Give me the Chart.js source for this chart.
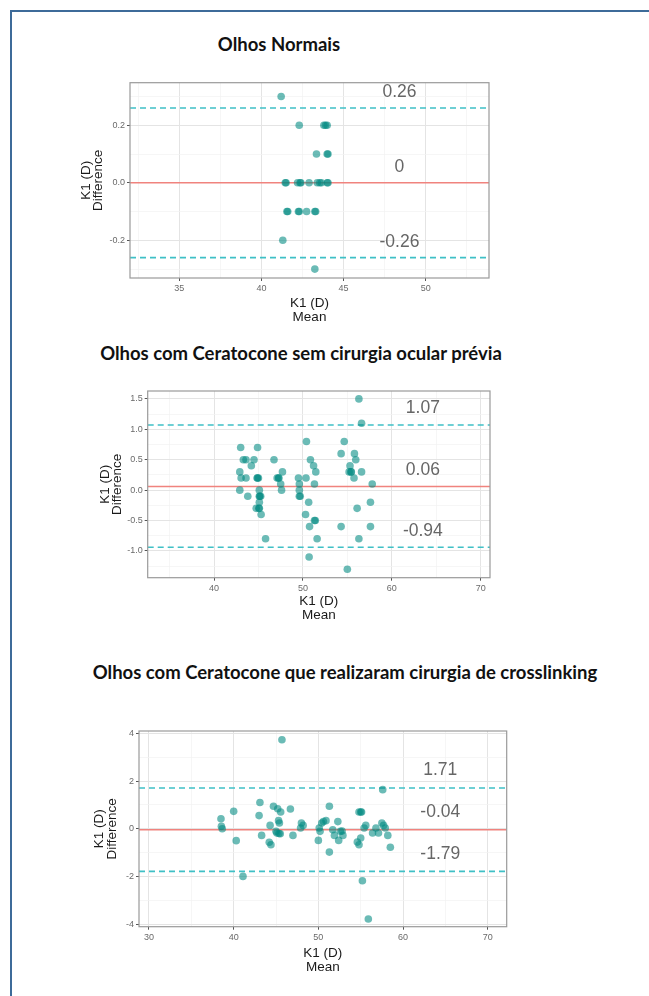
<!DOCTYPE html>
<html>
<head>
<meta charset="utf-8">
<script src="https://cdn.jsdelivr.net/npm/chart.js@4.4.0/dist/chart.umd.min.js"></script>
<style>
  html, body { margin: 0; padding: 0; background: #fff; }
  body { width: 649px; height: 996px; position: relative; overflow: hidden; }
  .frame { position: absolute; left: 10px; top: 10px; width: 700px; height: 1100px;
           border-top: 2px solid #3d6b99; border-left: 2px solid #3d6b99; }
  .title { position: absolute; transform: translate(-50%, -50%); white-space: nowrap;
           font-family: Lato, "Open Sans", sans-serif; font-weight: 700; font-size: 18.5px; color: #111; }
  canvas { position: absolute; }
</style>
</head>
<body>
<div class="frame"></div>

<div class="title" style="left:279px; top:44px;">Olhos Normais</div>
<canvas id="plotNormal"></canvas>

<div class="title" style="left:301px; top:353px;">Olhos com Ceratocone sem cirurgia ocular prévia</div>
<canvas id="plotKc"></canvas>

<div class="title" style="left:345px; top:672px;">Olhos com Ceratocone que realizaram cirurgia de crosslinking</div>
<canvas id="plotCxl"></canvas>

<script>
// ---- Olhos Normais ----
const normalMean = [41.2, 42.3, 43.8, 44.0, 43.9, 43.35, 44.0, 44.05,
                    41.45, 41.5, 42.2, 42.35, 42.4, 42.9, 43.4, 43.55, 43.65, 44.0, 44.05,
                    41.55, 41.6, 42.25, 42.3, 42.75, 43.3, 43.25, 41.3, 43.25];
const normalDiff = [0.3, 0.2, 0.2, 0.2, 0.2, 0.1, 0.1, 0.1,
                    0, 0, 0, 0, 0, 0, 0, 0, 0, 0, 0,
                    -0.1, -0.1, -0.1, -0.1, -0.1, -0.1, -0.1, -0.2, -0.3];
const normalLoa      = [0.26, 0, -0.26];
const normalLoaText  = ['0.26', '0', '-0.26'];
const normalXTicks   = [35, 40, 45, 50];
const normalXLabels  = ['35', '40', '45', '50'];
const normalXMinor   = [32.5, 37.5, 42.5, 47.5, 52.5];
const normalYTicks   = [-0.2, 0, 0.2];
const normalYLabels  = ['-0.2', '0.0', '0.2'];
const normalYMinor   = [-0.3, -0.1, 0.1, 0.3];

// ---- Ceratocone sem cirurgia ----
const kcMean = [43.0, 44.9, 43.3, 43.6, 44.5, 44.2, 42.9, 43.05, 43.6, 44.9, 45.0, 44.85,
                42.9, 43.8, 45.1, 45.15, 45.1, 45.25, 44.75, 45.1, 45.05, 45.3, 45.1, 45.8,
                46.75, 47.1, 47.25, 47.3, 47.7, 47.5, 47.6,
                49.5, 50.35, 49.6, 49.6, 49.6, 49.7,
                50.4, 50.85, 51.2, 51.45, 51.3, 50.65, 50.3, 50.75, 51.3, 51.4, 51.6, 50.7,
                54.3, 54.65, 55.3, 55.2, 55.45, 55.4, 55.8, 55.95, 55.75, 56.6, 57.8,
                56.1, 57.6, 57.6, 56.3, 54.3, 55.0, 56.3, 56.6];
const kcDiff = [0.7, 0.7, 0.5, 0.5, 0.5, 0.4, 0.3, 0.2, 0.2, 0.2, 0.2, 0.2,
                0.0, -0.1, 0.0, -0.1, -0.1, -0.1, -0.3, -0.3, -0.3, -0.4, -0.2, -0.8,
                0.5, 0.2, 0.2, 0.2, 0.3, 0.1, 0.0,
                0.2, 0.2, 0.1, 0.0, -0.1, -0.1,
                0.8, 0.5, 0.4, 0.3, 0.1, -0.2, -0.4, -0.6, -0.5, -0.5, -0.8, -1.1,
                0.6, 0.8, 0.4, 0.3, 0.3, 0.3, 0.6, 0.5, 0.2, 0.3, 0.1,
                -0.3, -0.2, -0.6, -0.8, -0.6, -1.3, 1.5, 1.1];
const kcLoa      = [1.07, 0.06, -0.94];
const kcLoaText  = ['1.07', '0.06', '-0.94'];
const kcXTicks   = [40, 50, 60, 70];
const kcXLabels  = ['40', '50', '60', '70'];
const kcXMinor   = [35, 45, 55, 65];
const kcYTicks   = [-1, -0.5, 0, 0.5, 1, 1.5];
const kcYLabels  = ['-1.0', '-0.5', '0.0', '0.5', '1.0', '1.5'];
const kcYMinor   = [-1.25, -0.75, -0.25, 0.25, 0.75, 1.25];

// ---- Ceratocone com crosslinking ----
const cxlMean = [38.5, 38.55, 38.65, 40.0, 40.3, 41.1,
                 43.1, 43.0, 43.3, 44.7, 44.3, 44.2, 44.4,
                 45.2, 45.55, 45.3, 45.4, 45.1, 45.5, 45.0, 45.35, 45.7,
                 46.7, 47.0, 48.0, 48.2, 47.9,
                 50.1, 50.0, 50.2, 50.6, 50.9, 50.4, 51.3, 51.3, 51.7, 51.9, 52.3, 52.6, 52.4, 52.9, 52.8,
                 54.8, 55.1, 55.0, 54.6, 54.8, 55.0, 55.2, 55.9, 55.4, 55.6,
                 56.4, 57.1, 56.8, 57.5, 57.6, 57.9, 58.2, 58.5, 57.7];
const cxlDiff = [0.42, 0.1, 0.0, 0.73, -0.5, -2.0,
                 1.1, 0.55, -0.28, 0.94, 0.14, -0.57, -0.67,
                 0.84, 0.7, 0.34, 0.24, -0.18, -0.21, -0.11, -0.2, 3.73,
                 0.83, -0.28, 0.24, 0.14, 0.03,
                 0.03, -0.49, -0.11, 0.3, 0.34, 0.24, 0.94, -0.98, -0.04, -0.28, 0.3, -0.11, -0.49, -0.28, -0.1,
                 0.7, 0.7, 0.7, -0.56, -0.67, -0.39, -2.18, -3.79, 0.03, 0.14,
                 -0.18, -0.18, 0.03, 0.24, 1.64, 0.03, -0.28, -0.78, 0.14];
const cxlLoa      = [1.71, -0.04, -1.79];
const cxlLoaText  = ['1.71', '-0.04', '-1.79'];
const cxlXTicks   = [30, 40, 50, 60, 70];
const cxlXLabels  = ['30', '40', '50', '60', '70'];
const cxlXMinor   = [35, 45, 55, 65];
const cxlYTicks   = [-4, -2, 0, 2, 4];
const cxlYLabels  = ['-4', '-2', '0', '2', '4'];
const cxlYMinor   = [-3, -1, 1, 3];

// ---- Estilo ----
const FONT      = "'Liberation Sans', Arial, sans-serif";
const pointFill = 'rgba(0,138,130,0.58)';
const loaColor  = '#3fc0c6';
const biasColor = '#f0837e';

// texto dos limites + borda do painel
const panelPlugin = {
    id: 'panelDeco',
    afterDatasetsDraw(chart, args, opts) {
        const {ctx, chartArea: a, scales: {x, y}} = chart;
        ctx.save();
        ctx.strokeStyle = '#9a9a9a';
        ctx.lineWidth = 1.2;
        ctx.strokeRect(a.left, a.top, a.right - a.left, a.bottom - a.top);
        ctx.font = '17.5px ' + FONT;
        ctx.fillStyle = '#666';
        ctx.textAlign = 'center';
        ctx.textBaseline = 'middle';
        opts.loa.forEach((v, i) => {
            ctx.fillText(opts.text[i], x.getPixelForValue(opts.labelX), y.getPixelForValue(v + opts.offset));
        });
        ctx.restore();
    }
};

function makeAxis(major, labels, minor, min, max, fitSize, title) {
    const isMajor = (c) => c.tick && major.includes(c.tick.value);
    return {
        type: 'linear', min: min, max: max,
        afterBuildTicks: (s) => {
            s.ticks = major.concat(minor).sort((a, b) => a - b).map(v => ({value: v}));
        },
        afterFit: fitSize,
        ticks: {
            autoSkip: false, maxRotation: 0, padding: 2,
            font: {family: FONT, size: 9}, color: '#6a6a6a',
            callback: (v) => { const i = major.indexOf(v); return i < 0 ? '' : labels[i]; }
        },
        grid: {
            color: (c) => isMajor(c) ? '#e4e4e4' : '#f2f2f2',
            lineWidth: (c) => isMajor(c) ? 1 : 0.7,
            tickLength: 3,
            tickColor: (c) => isMajor(c) ? '#555' : 'rgba(0,0,0,0)'
        },
        border: {display: false},
        title: title
    };
}

function buildPlot(p) {
    const cv = document.getElementById(p.id);
    const [cl, ct, cw, ch] = p.canvas;
    const [pl, pt, pr, pb] = p.panel;
    cv.width = cw; cv.height = ch;
    cv.style.left = cl + 'px'; cv.style.top = ct + 'px';

    const xLh = 14, yLh = 12.6;
    const points = p.mean.map((m, i) => ({x: m, y: p.diff[i]}));
    const hLines = p.loa.map((v, i) => ({
        type: 'line',
        data: [{x: p.xRange[0], y: v}, {x: p.xRange[1], y: v}],
        borderColor: i === 1 ? biasColor : loaColor,
        borderWidth: i === 1 ? 1.4 : 1.6,
        borderDash: i === 1 ? [] : [6, 4],
        pointRadius: 0
    }));

    new Chart(cv.getContext('2d'), {
        type: 'scatter',
        data: {
            datasets: [{
                data: points,
                backgroundColor: pointFill,
                borderWidth: 0,
                pointRadius: 3.8,
                pointHoverRadius: 3.8
            }].concat(hLines)
        },
        options: {
            responsive: false,
            animation: false,
            events: [],
            layout: {padding: {left: 0, top: pt - ct, right: cl + cw - pr, bottom: 0}},
            plugins: {
                legend: {display: false},
                tooltip: {enabled: false},
                panelDeco: {loa: p.loa, text: p.loaText, labelX: p.labelX, offset: p.labelOffset}
            },
            scales: {
                x: makeAxis(p.xTicks, p.xLabels, p.xMinor, p.xRange[0], p.xRange[1],
                    (s) => { s.height = ct + ch - pb; },
                    {display: true, text: ['K1 (D)', 'Mean'], color: '#1a1a1a',
                     font: {family: FONT, size: 13.5, lineHeight: xLh + 'px'},
                     padding: {top: 0, bottom: (ct + ch - p.meanY) - xLh / 2}}),
                y: makeAxis(p.yTicks, p.yLabels, p.yMinor, p.yRange[0], p.yRange[1],
                    (s) => { s.width = pl - cl; },
                    {display: true, text: ['K1 (D)', 'Difference'], color: '#1a1a1a',
                     font: {family: FONT, size: 13.5, lineHeight: yLh + 'px'},
                     padding: {top: (p.yTitleX - cl) - yLh / 2, bottom: 0}})
            }
        },
        plugins: [panelPlugin]
    });
}

buildPlot({
    id: 'plotNormal', canvas: [50, 70, 450, 260], panel: [130, 82.7, 489, 278],
    mean: normalMean, diff: normalDiff, loa: normalLoa, loaText: normalLoaText,
    xTicks: normalXTicks, xLabels: normalXLabels, xMinor: normalXMinor, xRange: [32.0, 53.85],
    yTicks: normalYTicks, yLabels: normalYLabels, yMinor: normalYMinor, yRange: [-0.331, 0.348],
    labelX: 48.4, labelOffset: 0.055, yTitleX: 86, meanY: 317.5
});

buildPlot({
    id: 'plotKc', canvas: [50, 375, 450, 250], panel: [147.7, 391, 490, 577.7],
    mean: kcMean, diff: kcDiff, loa: kcLoa, loaText: kcLoaText,
    xTicks: kcXTicks, xLabels: kcXLabels, xMinor: kcXMinor, xRange: [32.54, 71.05],
    yTicks: kcYTicks, yLabels: kcYLabels, yMinor: kcYMinor, yRange: [-1.44, 1.63],
    labelX: 63.5, labelOffset: 0.27, yTitleX: 105, meanY: 615
});

buildPlot({
    id: 'plotCxl', canvas: [50, 715, 470, 270], panel: [139, 731, 506.7, 926.7],
    mean: cxlMean, diff: cxlDiff, loa: cxlLoa, loaText: cxlLoaText,
    xTicks: cxlXTicks, xLabels: cxlXLabels, xMinor: cxlXMinor, xRange: [28.82, 72.24],
    yTicks: cxlYTicks, yLabels: cxlYLabels, yMinor: cxlYMinor, yRange: [-4.11, 4.1],
    labelX: 64.4, labelOffset: 0.73, yTitleX: 99.3, meanY: 967
});
</script>
</body>
</html>
